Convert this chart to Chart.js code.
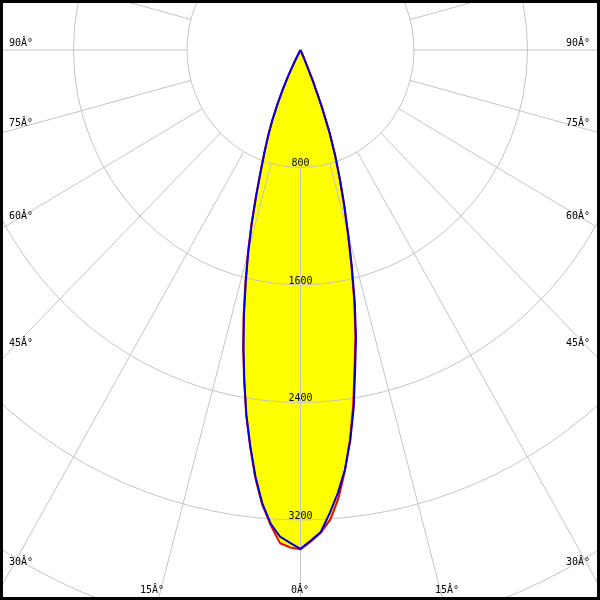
<!DOCTYPE html>
<html><head><meta charset="utf-8">
<script src="https://cdn.jsdelivr.net/npm/chart.js@4/dist/chart.umd.min.js"></script>
<style>html,body{margin:0;padding:0;background:#fff;overflow:hidden}canvas{display:block}</style>
</head><body><canvas id="c" width="600" height="600"></canvas>
<script>
// gamma angles (deg), negative = left half of the diagram
const angles = [-90,-60,-45,-30,-28.75,-27.5,-26.25,-25,-23.75,-22.5,-21.25,-20,-18.75,-17.5,-16.25,-15,-13.75,-12.5,-11.25,-10,-8.75,-7.5,-6.25,-5,-3.75,-2.5,-1.25,0,1.25,2.5,3.75,5,6.25,7.5,8.75,10,11.25,12.5,13.75,15,16.25,17.5,18.75,20,21.25,22.5,23.75,25,26.25,27.5,28.75,30,45,60,90];
// luminous intensity (cd)
const blueCd = [0,0,0,0,20,85,185,290,400,520,630,740,870,1035,1225,1420,1620,1840,2060,2280,2510,2716,2920,3097,3230,3317,3357,3397,3341,3285,3159,3027,2875,2685,2465,2217,2005,1770,1525,1300,1105,925,765,600,410,229,60,0,0,0,0,0,0,0,0];
const redCd  = [0,0,0,0,20,85,185,292,403,525,636,748,880,1045,1237,1433,1635,1852,2070,2288,2515,2722,2930,3105,3238,3360,3388,3400,3347,3290,3205,3065,2880,2675,2445,2195,1985,1752,1510,1287,1095,915,757,594,405,226,58,0,0,0,0,0,0,0,0];
const ringValues = [800,1600,2400,3200,4000,4800,5600];
const ringLabels = ["800","1600","2400","3200","4000","4800","5600"];
const spokeAngles = [0,15,30,45,60,75,90,105,120,135,150,165,180,195,210,225,240,255,270,285,300,315,330,345];
const angleLabels = ["90Â°","75Â°","60Â°","45Â°","30Â°","15Â°","0Â°"];

function toXY(vals){
  return angles.map((a,i)=>{const t=a*Math.PI/180;return {x:vals[i]*Math.sin(t), y:-vals[i]*Math.cos(t)};});
}

const FONT = '10px "DejaVu Sans Mono", "Liberation Mono", monospace';
// layout: [text index, x, baseline y, align]
const labelPlaces = [
  [0,9,46,'left'],[1,9,126,'left'],[2,9,219,'left'],[3,9,346,'left'],[4,9,565,'left'],[5,140,593,'left'],
  [0,566,46,'left'],[1,566,126,'left'],[2,566,219,'left'],[3,566,346,'left'],[4,566,565,'left'],[5,435,593,'left'],
  [6,300,593,'center']
];

const polarPlugin = {
  id:'polarGrid',
  beforeDatasetsDraw(chart){
    const ctx=chart.ctx, xs=chart.scales.x, ys=chart.scales.y;
    const cx=xs.getPixelForValue(0), cy=ys.getPixelForValue(0);
    ctx.save();
    chart.data.datasets.forEach((ds,i)=>{
      const pts=chart.getDatasetMeta(i).data;
      ctx.beginPath();
      pts.forEach((p,j)=>{ if(j===0) ctx.moveTo(p.x,p.y); else ctx.lineTo(p.x,p.y); });
      ctx.closePath();
      ctx.fillStyle='#ffff00';
      ctx.fill();
    });
    ctx.fillStyle='#000';
    ctx.font=FONT;
    ctx.textAlign='center';
    ctx.textBaseline='alphabetic';
    ringValues.forEach((v,i)=>{
      const py=ys.getPixelForValue(-v);
      ctx.fillText(ringLabels[i], cx, py-1);
    });
    ctx.strokeStyle='#c4c4c4';
    ctx.lineWidth=1;
    ringValues.forEach(v=>{
      const rx=xs.getPixelForValue(v)-cx, ry=ys.getPixelForValue(-v)-cy;
      ctx.beginPath();
      ctx.ellipse(cx,cy,rx,ry,0,0,Math.PI*2);
      ctx.stroke();
    });
    const r0=ringValues[0], r1=8000;
    spokeAngles.forEach(a=>{
      const t=a*Math.PI/180;
      ctx.beginPath();
      ctx.moveTo(xs.getPixelForValue(r0*Math.sin(t)), ys.getPixelForValue(-r0*Math.cos(t)));
      ctx.lineTo(xs.getPixelForValue(r1*Math.sin(t)), ys.getPixelForValue(-r1*Math.cos(t)));
      ctx.stroke();
    });
    ctx.fillStyle='#000';
    labelPlaces.forEach(l=>{
      ctx.textAlign=l[3];
      ctx.fillText(angleLabels[l[0]], l[1], l[2]);
    });
    ctx.restore();
  },
  afterDraw(chart){
    const ctx=chart.ctx, w=chart.width, h=chart.height;
    ctx.save();
    ctx.fillStyle='#000';
    ctx.fillRect(0,0,w,3);
    ctx.fillRect(0,0,3,h);
    ctx.fillRect(w-3,0,3,h);
    ctx.fillRect(0,h-3,w,3);
    ctx.restore();
  }
};

new Chart(document.getElementById('c'),{
  type:'line',
  data:{datasets:[
    {label:'C90-C270',data:toXY(blueCd),borderColor:'#0000dd',borderWidth:2,pointRadius:0,fill:false,tension:0.000001,borderJoinStyle:'round'},
    {label:'C0-C180',data:toXY(redCd),borderColor:'#ee0000',borderWidth:2,pointRadius:0,fill:false,tension:0.000001,borderJoinStyle:'round'}
  ]},
  options:{
    responsive:false,animation:false,
    layout:{padding:0},
    scales:{
      x:{type:'linear',min:-2118,max:2111,display:false},
      y:{type:'linear',min:-3745,max:340,display:false}
    },
    plugins:{legend:{display:false},tooltip:{enabled:false}}
  },
  plugins:[polarPlugin]
});
</script></body></html>
